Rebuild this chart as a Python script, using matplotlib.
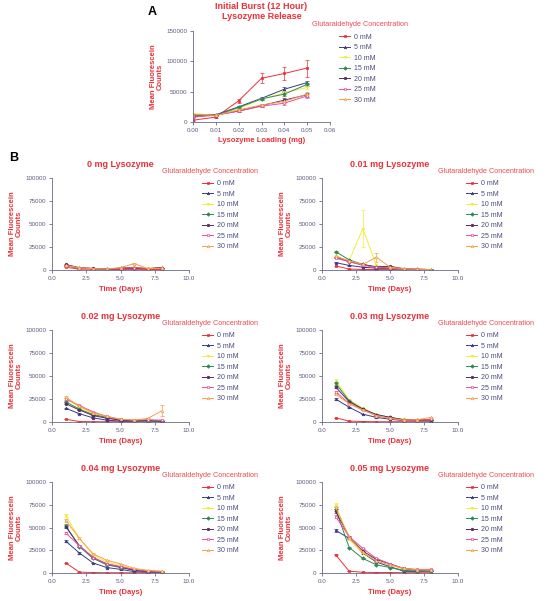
import matplotlib
matplotlib.use("Agg")
import matplotlib.pyplot as plt
from matplotlib.lines import Line2D
import numpy as np

plt.rcParams['font.family'] = ['Liberation Sans', 'DejaVu Sans']

# ---------------- data ----------------
series_labels = ["0 mM", "5 mM", "10 mM", "15 mM", "20 mM", "25 mM", "30 mM"]
series_colors = ["#E8313A", "#3A3A8C", "#F2EE3A", "#2E8B57", "#5B2A5E", "#E54FA0", "#F5A04A"]
series_markers = ["s", "^", "v", "D", "o", "s", "^"]
series_filled = [True, True, True, True, True, False, False]

# Panel A
loading_mg = [0.00, 0.01, 0.02, 0.03, 0.04, 0.05]
burst_0mM = [3000, 8000, 35000, 72000, 80000, 89000]
burst_5mM = [10000, 12000, 25000, 39000, 54000, 65000]
burst_10mM = [14000, 11000, 22000, 38000, 48000, 57000]
burst_15mM = [12000, 11000, 24000, 38000, 46000, 62000]
burst_20mM = [9000, 12000, 18000, 27000, 36000, 45000]
burst_25mM = [8000, 11000, 18000, 26000, 31000, 43000]
burst_30mM = [12000, 11000, 20000, 28000, 34000, 46000]
burst_err_0mM = [1000, 1500, 3000, 8000, 10000, 14000]
burst_err_other = [1500, 1000, 2000, 2000, 3000, 3000]

# Panel B
days = [1, 2, 3, 4, 5, 6, 7, 8]
b_titles = ["0 mg Lysozyme", "0.01 mg Lysozyme", "0.02 mg Lysozyme",
            "0.03 mg Lysozyme", "0.04 mg Lysozyme", "0.05 mg Lysozyme"]

lys0 = [
    [3000, 1000, 800, 600, 600, 800, 600, 600],
    [5000, 2000, 1500, 1000, 1500, 2000, 1500, 2500],
    [5500, 2500, 1500, 1200, 2000, 3000, 2000, 2000],
    [5000, 2000, 1500, 1200, 2000, 2500, 1500, 2000],
    [6000, 2500, 1800, 1200, 2000, 2000, 1500, 2500],
    [4500, 2000, 1500, 1000, 1800, 2500, 1500, 1800],
    [5000, 2500, 1500, 1200, 2500, 7000, 1500, 2000],
]
lys001 = [
    [4500, 1000, 600, 500, 400, 300, 300, 300],
    [8000, 5000, 3000, 2000, 1500, 1000, 700, 500],
    [15000, 10000, 45000, 5000, 2000, 1000, 500, 500],
    [20000, 11000, 6000, 3000, 2000, 1000, 700, 500],
    [14000, 9000, 6000, 3500, 4000, 1500, 800, 500],
    [13000, 9000, 5000, 3000, 2000, 1000, 700, 500],
    [15000, 10000, 6000, 14000, 3000, 1500, 1000, 500],
]
lys002 = [
    [3000, 500, 300, 300, 300, 300, 300, 300],
    [15000, 9000, 4500, 2000, 1000, 800, 500, 500],
    [26000, 16000, 9000, 5000, 3000, 1500, 1000, 1000],
    [22000, 14000, 8000, 5000, 2500, 1500, 1000, 800],
    [20000, 13000, 7000, 4000, 2000, 1500, 1500, 1000],
    [25000, 18000, 11000, 6000, 3000, 2000, 2500, 2000],
    [27000, 17000, 10000, 6000, 3000, 2000, 4000, 12000],
]
lys003 = [
    [4500, 1000, 500, 300, 300, 300, 300, 300],
    [25000, 16000, 8500, 5000, 3000, 1500, 1500, 1500],
    [45000, 24000, 15000, 8000, 5000, 3000, 2000, 2000],
    [42000, 23000, 14000, 8000, 5000, 2500, 2000, 2000],
    [38000, 22000, 14000, 8000, 5000, 2500, 2000, 2500],
    [33000, 20000, 13000, 7000, 4000, 2000, 2000, 3000],
    [30000, 20000, 13000, 7000, 4000, 2000, 2500, 5000],
]
lys004 = [
    [11000, 1000, 500, 300, 300, 200, 200, 200],
    [35000, 22000, 11000, 6000, 4000, 1500, 1000, 1000],
    [63000, 38000, 20000, 12000, 8000, 4000, 2000, 1500],
    [52000, 29000, 16000, 9000, 6000, 3000, 1500, 1500],
    [51000, 30000, 17000, 10000, 6500, 3000, 1500, 1500],
    [44000, 30000, 17000, 10000, 7000, 4000, 2000, 1500],
    [58000, 38000, 21000, 14000, 10000, 5000, 3000, 2000],
]
lys005 = [
    [20000, 2000, 800, 500, 500, 300, 300, 300],
    [47000, 38000, 22000, 12000, 7000, 2000, 1500, 2000],
    [75000, 37000, 22000, 14000, 9000, 4000, 2500, 2500],
    [70000, 28000, 16000, 9000, 6000, 3000, 2000, 2000],
    [68000, 40000, 24000, 15000, 10000, 5000, 3000, 3000],
    [62000, 40000, 27000, 16000, 10000, 5000, 4000, 4000],
    [72000, 39000, 23000, 13000, 9000, 5000, 3500, 3000],
]
b_data = [lys0, lys001, lys002, lys003, lys004, lys005]

# ---------------- style ----------------
RED = "#E8313A"
LEGTITLE = "#EE4A55"
TICKC = "#5A5A80"
SPINEC = "#6A6A8A"
LEGTEXT = "#4A4A80"

W, H = 546, 601
fig = plt.figure(figsize=(W / 100, H / 100), dpi=100)


def px_axes(x0, y0, x1, y1):
    return fig.add_axes([x0 / W, (H - y1) / H, (x1 - x0) / W, (y1 - y0) / H])


def style_axes(ax):
    for s in ["top", "right"]:
        ax.spines[s].set_visible(False)
    for s in ["left", "bottom"]:
        ax.spines[s].set_color(SPINEC)
        ax.spines[s].set_linewidth(0.6)
    ax.tick_params(axis="both", colors=SPINEC, labelcolor=TICKC, labelsize=4.5,
                   length=2.5, width=0.6, pad=1.5)


def legend_handles():
    hs = []
    for i, lab in enumerate(series_labels):
        c = series_colors[i]
        hs.append(Line2D([0], [0], color=c, lw=0.7, marker=series_markers[i],
                         markersize=1.8, markerfacecolor=c if series_filled[i] else "white",
                         markeredgecolor=c, markeredgewidth=0.5, label=lab))
    return hs


def add_legend(ax, title_x, title_y, line_x, row_y):
    # title_x/title_y/line_x/row_y in figure pixels from top-left
    fig.text(title_x / W, 1 - title_y / H, "Glutaraldehyde Concentration",
             color=LEGTITLE, fontsize=5.25, ha="left", va="center")
    leg = ax.legend(handles=legend_handles(), loc="upper left",
                    bbox_to_anchor=(line_x / W, 1 - (row_y - 3.8) / H),
                    bbox_transform=fig.transFigure, frameon=False, fontsize=5.0,
                    handlelength=1.65, handletextpad=0.45, labelspacing=0.5,
                    borderaxespad=0, borderpad=0)
    for t in leg.get_texts():
        t.set_color(LEGTEXT)
    return leg


def plot_series(ax, x, y, err, i):
    c = series_colors[i]
    ax.errorbar(x, y, yerr=err, color=c, lw=0.7, marker=series_markers[i],
                markersize=1.8, markerfacecolor=c if series_filled[i] else "white",
                markeredgecolor=c, markeredgewidth=0.5, elinewidth=0.5,
                capsize=1.2, capthick=0.5, label=series_labels[i])


# ---------------- Panel A ----------------
axA = px_axes(193, 31, 330, 122)
burst_all = [burst_0mM, burst_5mM, burst_10mM, burst_15mM, burst_20mM, burst_25mM, burst_30mM]
for i, yv in enumerate(burst_all):
    err = burst_err_0mM if i == 0 else burst_err_other
    plot_series(axA, loading_mg, yv, err, i)
axA.set_xlim(0, 0.06)
axA.set_ylim(0, 150000)
axA.set_xticks(np.arange(0, 0.061, 0.01))
axA.set_xticklabels([f"{v:.2f}" for v in np.arange(0, 0.061, 0.01)])
axA.set_yticks([0, 50000, 100000, 150000])
axA.set_yticklabels(["0", "50000", "100000", "150000"])
style_axes(axA)
axA.set_title("Initial Burst (12 Hour)\nLysozyme Release", color=RED, fontsize=6.5,
              fontweight="bold", pad=8.5, linespacing=1.12)
axA.set_xlabel("Lysozyme Loading (mg)", color=RED, fontsize=5.5, fontweight="bold", labelpad=3)
axA.set_ylabel("Mean Fluorescein\nCounts", color=RED, fontsize=5.5, fontweight="bold",
               labelpad=2, linespacing=1.0)
add_legend(axA, 312, 24, 339, 37.7)
fig.text(148 / W, 1 - 12 / H, "A", fontsize=9, fontweight="bold", color="black", va="center")
fig.text(9 / W, 1 - 158 / H, "B", fontsize=9, fontweight="bold", color="black", va="center")

# ---------------- Panel B ----------------
cols = [(52, 189), (322, 458)]
rows = [(178, 270), (330, 422), (482, 573)]
leg_title_x = [162, 438]
leg_line_x = [202, 466]
for k, (title, data) in enumerate(zip(b_titles, b_data)):
    r, c = divmod(k, 2)
    ax = px_axes(cols[c][0], rows[r][0], cols[c][1], rows[r][1])
    for i, yv in enumerate(data):
        err = [max(200, 0.03 * v) for v in yv]
        if k == 1 and i == 2:
            err = [20000 if v > 40000 else max(200, 0.03 * v) for v in yv]
        if k == 1 and i == 6:
            err = [5000 if j == 3 else max(200, 0.03 * v) for j, v in enumerate(yv)]
        if k == 2 and i == 6:
            err = [6000 if j == 7 else max(200, 0.03 * v) for j, v in enumerate(yv)]
        plot_series(ax, days, yv, err, i)
    ax.set_xlim(0, 10)
    ax.set_ylim(0, 100000)
    ax.set_xticks([0, 2.5, 5, 7.5, 10])
    ax.set_xticklabels(["0.0", "2.5", "5.0", "7.5", "10.0"])
    ax.set_yticks([0, 25000, 50000, 75000, 100000])
    ax.set_yticklabels(["0", "25000", "50000", "75000", "100000"])
    style_axes(ax)
    ax.set_title(title, color=RED, fontsize=6.5, fontweight="bold", pad=8)
    ax.set_xlabel("Time (Days)", color=RED, fontsize=5.5, fontweight="bold", labelpad=4)
    ax.set_ylabel("Mean Fluorescein\nCounts", color=RED, fontsize=5.5, fontweight="bold",
                  labelpad=2, linespacing=1.0)
    top = rows[r][0]
    add_legend(ax, leg_title_x[c], top - 6.5, leg_line_x[c], top + 6.2)

fig.savefig("out.png", dpi=100, facecolor="white")
